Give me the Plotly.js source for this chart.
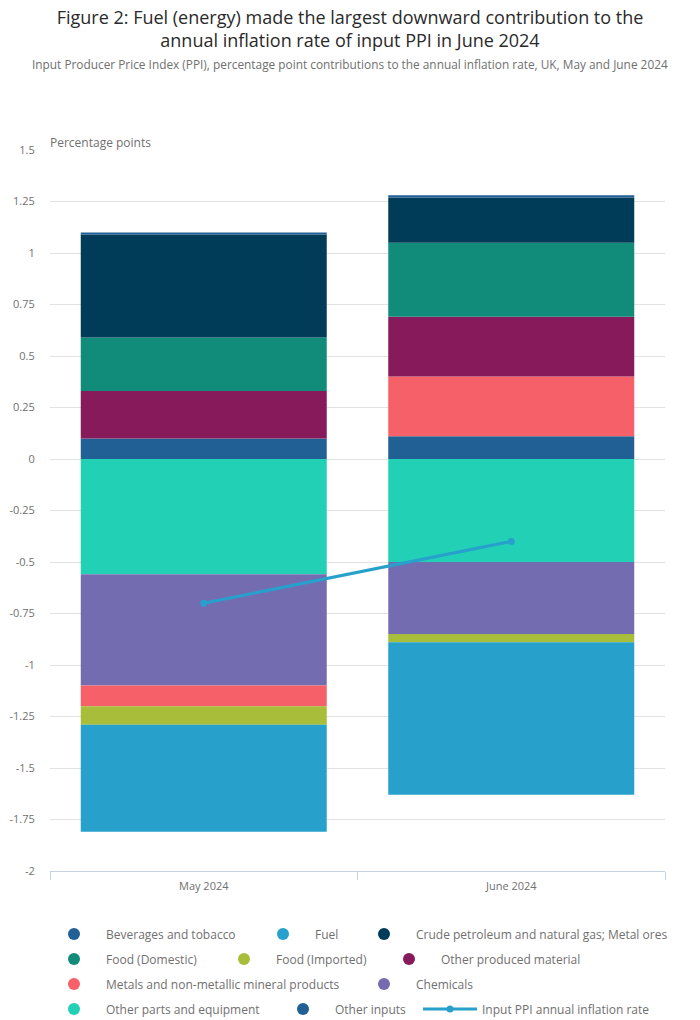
<!DOCTYPE html>
<html>
<head>
<meta charset="utf-8">
<script src="https://cdn.plot.ly/plotly-3.0.1.min.js"></script>
<style>
  html, body { margin: 0; padding: 0; background: #ffffff; }
  #chart { width: 700px; height: 1020px; }
</style>
</head>
<body>
<div id="chart"></div>
<script>
// ---- Data ----
const months = ["May 2024", "June 2024"];

const beveragesTobacco = [0.01, 0.01];
const fuel = [-0.52, -0.74];
const crudePetroleumMetalOres = [0.50, 0.22];
const foodDomestic = [0.26, 0.36];
const foodImported = [-0.09, -0.04];
const otherProducedMaterial = [0.23, 0.29];
const metalsNonMetallic = [-0.10, 0.29];
const chemicals = [-0.54, -0.35];
const otherPartsEquipment = [-0.56, -0.50];
const otherInputs = [0.10, 0.11];

const inputPpiRate = [-0.70, -0.40];

const yTickValues = [1.5, 1.25, 1, 0.75, 0.5, 0.25, 0, -0.25, -0.5, -0.75, -1, -1.25, -1.5, -1.75, -2];
const yTickLabels = ["1.5", "1.25", "1", "0.75", "0.5", "0.25", "0", "-0.25", "-0.5", "-0.75", "-1", "-1.25", "-1.5", "-1.75", "-2"];

// ---- Series definitions (legend order) ----
const series = [
  { name: "Beverages and tobacco", values: beveragesTobacco, color: "#206095" },
  { name: "Fuel", values: fuel, color: "#27a0cc" },
  { name: "Crude petroleum and natural gas; Metal ores", values: crudePetroleumMetalOres, color: "#003c57" },
  { name: "Food (Domestic)", values: foodDomestic, color: "#118c7b" },
  { name: "Food (Imported)", values: foodImported, color: "#a8bd3a" },
  { name: "Other produced material", values: otherProducedMaterial, color: "#871a5b" },
  { name: "Metals and non-metallic mineral products", values: metalsNonMetallic, color: "#f66068" },
  { name: "Chemicals", values: chemicals, color: "#746cb1" },
  { name: "Other parts and equipment", values: otherPartsEquipment, color: "#22d0b6" },
  { name: "Other inputs", values: otherInputs, color: "#206095" }
];

const FONT = "'Open Sans', 'Noto Sans', sans-serif";
const GREY = "#707070";

const traces = [];
// Bars: stacked so that the last legend series sits nearest zero
for (let i = series.length - 1; i >= 0; i--) {
  const s = series[i];
  traces.push({
    type: "bar",
    name: s.name,
    x: months,
    y: s.values,
    marker: { color: s.color, line: { width: 0 } },
    width: 0.8,
    legendgroup: "g" + i,
    showlegend: false,
    hovertemplate: "%{x}<br>" + s.name + ": %{y}<extra></extra>"
  });
}
// Legend entries (circle markers) in legend order
series.forEach((s, i) => {
  traces.push({
    type: "scatter",
    mode: "markers",
    name: s.name,
    x: [null],
    y: [null],
    marker: { color: s.color, size: 12, symbol: "circle" },
    legendgroup: "g" + i,
    legend: i === 0 ? "legend" : "legend" + (i + 1),
    hoverinfo: "skip"
  });
});
// Line
traces.push({
  type: "scatter",
  mode: "lines+markers",
  name: "Input PPI annual inflation rate",
  x: months,
  y: inputPpiRate,
  line: { color: "#27a0cc", width: 3 },
  marker: { color: "#27a0cc", size: 7 },
  legend: "legend11",
  hovertemplate: "%{x}<br>Input PPI annual inflation rate: %{y}<extra></extra>"
});

// Legend slots: [marker centre x (px), row centre y (px)]
const legendSlots = [
  [74, 934], [283, 934], [384, 934],
  [74, 959], [244, 959], [409, 959],
  [74, 984], [384, 984],
  [74, 1009], [303, 1009], [450, 1009]
];
const W = 700, H = 1020, ITEMW = 54;

const layout = {
  width: W,
  height: H,
  paper_bgcolor: "#ffffff",
  plot_bgcolor: "#ffffff",
  font: { family: FONT, color: GREY, size: 12 },
  margin: { l: 50, r: 35, t: 150, b: 149, pad: 0 },
  barmode: "relative",
  bargap: 0.2,
  title: {
    text: "Figure 2: Fuel (energy) made the largest downward contribution to the<br>annual inflation rate of input PPI in June 2024",
    font: { family: FONT, size: 18, color: "#2a2a2a" },
    x: 0.5, xref: "container", xanchor: "center",
    y: 1 - 24 / H, yref: "container", yanchor: "top"
  },
  xaxis: {
    type: "category",
    range: [-0.5, 1.5],
    tickson: "boundaries",
    ticks: "outside",
    ticklen: 8,
    tickcolor: "#c8d1e1",
    ticklabelstandoff: 5,
    showline: true,
    linecolor: "#c8d1e1",
    linewidth: 1,
    showgrid: false,
    tickfont: { family: FONT, size: 11, color: GREY },
    fixedrange: true
  },
  yaxis: {
    range: [-2, 1.5],
    tickmode: "array",
    tickvals: yTickValues,
    ticktext: yTickLabels,
    showgrid: true,
    gridcolor: "#e2e2e2",
    gridwidth: 1,
    zeroline: true,
    zerolinecolor: "#e2e2e2",
    zerolinewidth: 1,
    showline: false,
    ticks: "outside",
    ticklen: 12,
    tickcolor: "rgba(0,0,0,0)",
    tickfont: { family: FONT, size: 11, color: GREY },
    fixedrange: true
  },
  annotations: [
    {
      text: "Input Producer Price Index (PPI), percentage point contributions to the annual inflation rate, UK, May and June 2024",
      xref: "paper", yref: "paper",
      x: (349.5 - 50) / 615, xanchor: "center",
      y: (871 - 64) / 721, yanchor: "middle",
      showarrow: false,
      font: { family: FONT, size: 11.85, color: GREY }
    },
    {
      text: "Percentage points",
      xref: "paper", yref: "paper",
      x: -2 / 615, xanchor: "left",
      y: (871 - 142) / 721, yanchor: "middle",
      showarrow: false,
      font: { family: FONT, size: 12, color: GREY }
    }
  ],
  showlegend: true
};

legendSlots.forEach((slot, i) => {
  const key = i === 0 ? "legend" : "legend" + (i + 1);
  layout[key] = {
    orientation: "h",
    xref: "container", yref: "container",
    x: (slot[0] - (ITEMW + 10) / 2) / W, xanchor: "left",
    y: 1 - slot[1] / H, yanchor: "middle",
    itemwidth: ITEMW,
    bgcolor: "rgba(0,0,0,0)",
    borderwidth: 0,
    font: { family: FONT, size: 12, color: GREY }
  };
});

Plotly.newPlot("chart", traces, layout, { displayModeBar: false, responsive: false });
</script>
</body>
</html>
